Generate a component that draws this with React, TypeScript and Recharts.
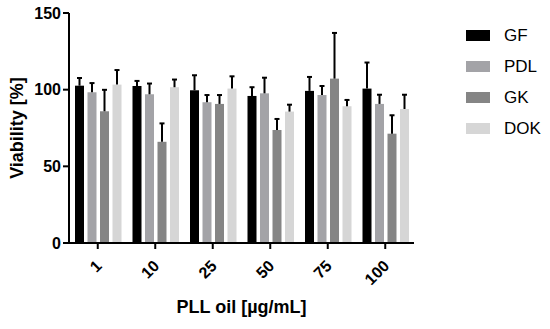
import { BarChart, Bar, XAxis, YAxis } from 'recharts';

const categories = ['1', '10', '25', '50', '75', '100'];
const gf = [102.6, 102.4, 99.6, 95.9, 99.2, 100.7];
const gfErr = [5, 3.3, 9.8, 5.7, 9.1, 17];
const pdl = [98.3, 97, 91.8, 97.6, 96.5, 90.7];
const pdlErr = [6, 7, 4.7, 10.2, 5.9, 6];
const gk = [85.9, 66, 90.7, 73.7, 107.2, 71.3];
const gkErr = [14, 12, 5.8, 7.2, 29.8, 12];
const dok = [103.3, 101.6, 100.7, 85.7, 89.2, 87.4];
const dokErr = [9.5, 5, 8, 4.5, 4.1, 9.3];
const yTicks = [0, 50, 100, 150];

const series = [
  { key: 'GF', color: '#000000', values: gf, errors: gfErr },
  { key: 'PDL', color: '#a3a3a7', values: pdl, errors: pdlErr },
  { key: 'GK', color: '#858585', values: gk, errors: gkErr },
  { key: 'DOK', color: '#d6d6d6', values: dok, errors: dokErr },
];

const data = categories.map((c, i) => {
  const row: any = { dose: c };
  series.forEach((s) => {
    row[s.key] = s.values[i];
    row[s.key + 'Err'] = s.errors[i];
  });
  return row;
});

const font = '"Liberation Sans", Arial, sans-serif';

// bar with an upper-only error whisker, scaled from the bar's own px/unit
function BarWithErr(props: any) {
  const { x, y, width, height, fill, payload, errKey, valKey } = props;
  const v = payload[valKey];
  const err = payload[errKey];
  const pxPerUnit = v ? height / v : 0;
  const top = y - err * pxPerUnit;
  const cx = x + width / 2;
  return (
    <g>
      <rect x={x} y={y} width={width} height={height} fill={fill} />
      <line x1={cx} x2={cx} y1={y} y2={top} stroke="#000" strokeWidth={2} />
      <line x1={cx - 2.5} x2={cx + 2.5} y1={top} y2={top} stroke="#000" strokeWidth={2} />
    </g>
  );
}

function XTick(props: any) {
  const { x, y, payload } = props;
  const ax = x + 5;
  const ay = y + 16;
  return (
    <text
      x={ax}
      y={ay}
      transform={`rotate(-45, ${ax}, ${ay})`}
      textAnchor="end"
      fontSize={16}
      fontWeight="bold"
      fontFamily={font}
      fill="#000"
    >
      {payload.value}
    </text>
  );
}

export default function App() {
  return (
    <div style={{ position: 'absolute', left: 0, top: 0, width: 550, height: 329, background: '#fff', fontFamily: font }}>
      <BarChart
        width={550}
        height={329}
        data={data}
        margin={{ top: 13, right: 136, left: 0, bottom: 0 }}
        barSize={9}
        barGap={3.5}
      >
        <XAxis
          dataKey="dose"
          height={86}
          axisLine={{ stroke: '#000', strokeWidth: 2 }}
          tickLine={{ stroke: '#000', strokeWidth: 2 }}
          tickSize={6}
          tick={<XTick />}
          interval={0}
          label={{ value: 'PLL oil [µg/mL]', position: 'insideBottom', offset: 16, fontSize: 18, fontWeight: 'bold', fill: '#000', fontFamily: font }}
        />
        <YAxis
          width={69}
          domain={[0, 150]}
          ticks={yTicks}
          axisLine={{ stroke: '#000', strokeWidth: 2 }}
          tickLine={{ stroke: '#000', strokeWidth: 2 }}
          tickSize={6}
          tick={{ fontSize: 16, fontWeight: 'bold', fill: '#000', fontFamily: font }}
          label={{ value: 'Viability [%]', angle: -90, position: 'insideLeft', offset: 17, style: { textAnchor: 'middle' }, fontSize: 18, fontWeight: 'bold', fill: '#000', fontFamily: font }}
        />
        {series.map((s) => (
          <Bar
            key={s.key}
            dataKey={s.key}
            fill={s.color}
            isAnimationActive={false}
            shape={(p: any) => <BarWithErr {...p} valKey={s.key} errKey={s.key + 'Err'} />}
          />
        ))}
      </BarChart>
      <div style={{ position: 'absolute', left: 466, top: 20 }}>
        {series.map((s) => (
          <div key={s.key} style={{ display: 'flex', alignItems: 'center', height: 31 }}>
            <div style={{ width: 24, height: 11, background: s.color }} />
            <span style={{ marginLeft: 14, fontSize: 17, color: '#000', lineHeight: '17px' }}>{s.key}</span>
          </div>
        ))}
      </div>
    </div>
  );
}
